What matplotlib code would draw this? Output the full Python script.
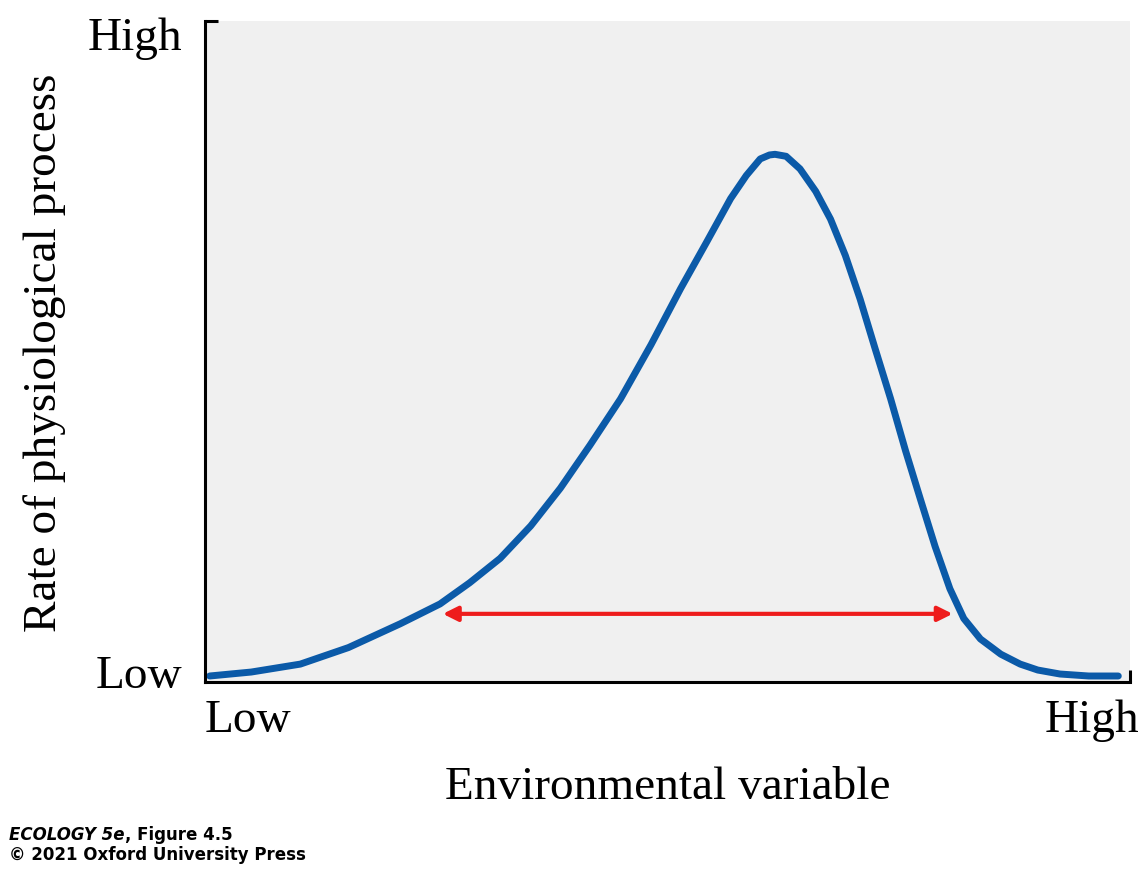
import matplotlib
matplotlib.use("Agg")
import matplotlib.pyplot as plt

# curve (x, y in percent of axis range)
env_x = [0.5, 5.0, 10.3, 15.5, 21.1, 25.4, 28.6, 31.9, 35.2, 38.4, 41.6, 44.9, 48.2, 51.4, 54.2,
         56.8, 58.5, 60.0, 61.0, 61.6, 62.8, 64.3, 66.0, 67.6, 69.2, 70.8, 72.4, 74.1, 75.7,
         77.3, 78.9, 80.5, 82.0, 83.8, 86.0, 88.1, 90.0, 92.4, 95.5, 98.7]
rate_y = [0.9, 1.5, 2.7, 5.2, 8.8, 11.8, 15.0, 18.7, 23.6, 29.3, 35.8, 42.8, 51.0, 59.5, 66.5,
          73.1, 76.6, 79.1, 79.7, 79.8, 79.5, 77.6, 74.2, 70.0, 64.5, 57.9, 50.5, 42.8, 35.0,
          27.7, 20.5, 14.1, 9.6, 6.5, 4.2, 2.7, 1.8, 1.2, 0.9, 0.9]
range_lo, range_hi, range_y = 25.4, 81.1, 10.3

plt.rcParams['font.family'] = ['Liberation Serif', 'DejaVu Serif']
fig = plt.figure(figsize=(11.48, 8.7), dpi=100)
ax = fig.add_axes([0.1786, 0.215, 0.806, 0.76])
ax.set_facecolor('#f0f0f0')
ax.plot(env_x, rate_y, color='#0b5aa8', lw=5, solid_capstyle='round', solid_joinstyle='round')
ax.annotate('', xy=(range_hi, range_y), xytext=(range_lo, range_y),
            arrowprops=dict(arrowstyle='<|-|>', color='#ee1c1c', lw=3, mutation_scale=22))
ax.set_xlim(0, 100)
ax.set_ylim(0, 100)
for s in ['top', 'right']:
    ax.spines[s].set_visible(False)
for s in ['left', 'bottom']:
    ax.spines[s].set_linewidth(2.2)
ax.set_xticks([100])
ax.set_yticks([100])
ax.tick_params(direction='in', length=9, width=2.2, labelleft=False, labelbottom=False)

fs = 34
ax.text(-0.025, 0.975, 'High', transform=ax.transAxes, ha='right', va='center', fontsize=fs)
ax.text(-0.025, 0.01, 'Low', transform=ax.transAxes, ha='right', va='center', fontsize=fs)
ax.text(0.0, -0.025, 'Low', transform=ax.transAxes, ha='left', va='top', fontsize=fs)
ax.text(1.01, -0.025, 'High', transform=ax.transAxes, ha='right', va='top', fontsize=fs)
ax.set_xlabel('Environmental variable', fontsize=fs, labelpad=60)
ax.set_ylabel('Rate of physiological process', fontsize=fs, labelpad=100)

foot = ['Liberation Sans Narrow', 'DejaVu Sans']
t = fig.text(0.008, 0.035, 'ECOLOGY 5e', fontsize=12, family=foot, weight='bold', style='italic')
fig.canvas.draw()
bb = t.get_window_extent()
fig.text(bb.x1 / fig.bbox.width, 0.035, ', Figure 4.5', fontsize=12, family=foot, weight='bold')
fig.text(0.008, 0.012, '© 2021 Oxford University Press', fontsize=12, family=foot, weight='bold')
fig.savefig('out.png')
